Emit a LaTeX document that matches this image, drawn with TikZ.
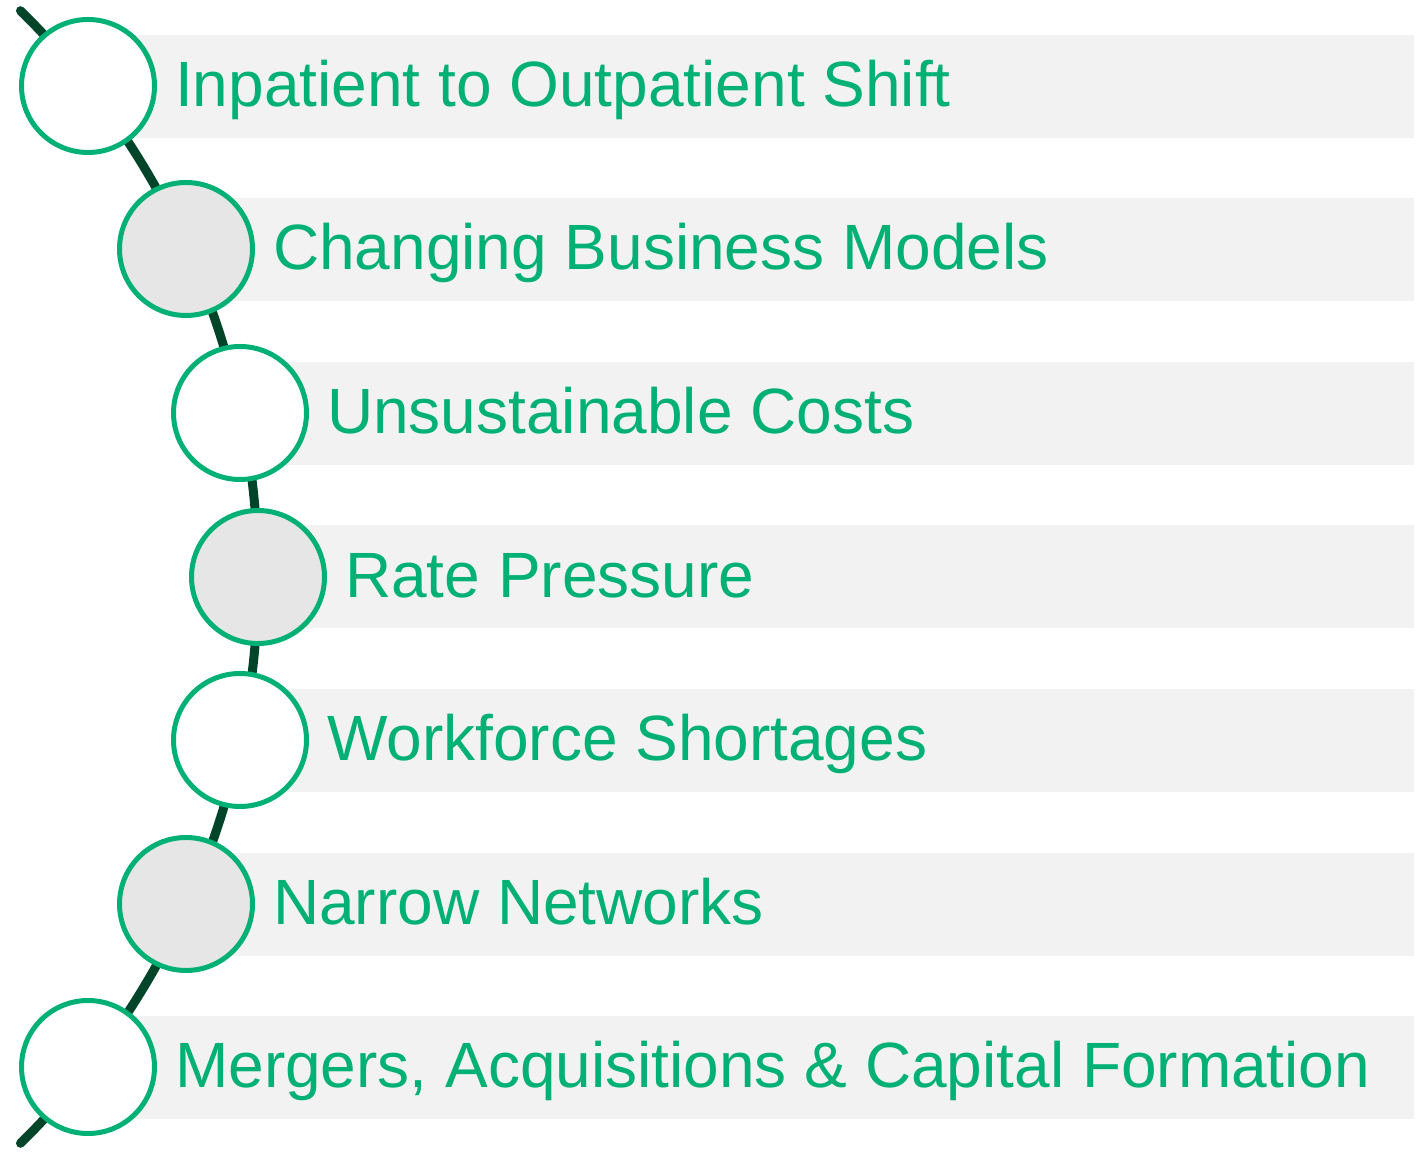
\documentclass[tikz,border=0pt]{standalone}
\usepackage{fontspec}
\setmainfont{Liberation Sans}
\usetikzlibrary{positioning, calc}
\definecolor{gruen}{HTML}{00B074}
\definecolor{dunkel}{HTML}{00452A}
\definecolor{balken}{HTML}{F2F2F2}
\definecolor{kreisgrau}{HTML}{E6E6E6}
\tikzset{
  kreis/.style={circle, draw=gruen, line width=5pt, fill=white,
                minimum size=133pt, inner sep=0pt},
  kreisg/.style={kreis, fill=kreisgrau},
  etikett/.style={anchor=base west, text=gruen, font=\fontsize{64}{70}\selectfont,
                  inner sep=0pt}
}
\begin{document}
\begin{tikzpicture}[x=1pt, y=1pt]
      \useasboundingbox (0,0) rectangle (1419,1153);

      % Balken
      \fill[balken] (88,1015) rectangle (1414,1118);
      \fill[balken] (186,852) rectangle (1414,955);
      \fill[balken] (240,688) rectangle (1414,791);
      \fill[balken] (258,525) rectangle (1414,628);
      \fill[balken] (240,361) rectangle (1414,464);
      \fill[balken] (186,197) rectangle (1414,300);
      \fill[balken] (88,34) rectangle (1414,137);

      % Bogen
      \coordinate (bogenmitte) at (-536,576);
      \coordinate (bogenstart) at ($(bogenmitte)+(45.5:794)$);
      \draw[dunkel, line width=9pt, line cap=round]
        (bogenstart) arc (45.5:-45.5:794);

      % Kreise
      \node[kreis]  (k1) at (88,1067) {};
      \node[kreisg] (k2) at (186,904) {};
      \node[kreis]  (k3) at (240,740) {};
      \node[kreisg] (k4) at (258,576) {};
      \node[kreis]  (k5) at (240,413) {};
      \node[kreisg] (k6) at (186,249) {};
      \node[kreis]  (k7) at (88,86) {};

      % Texte
      \node[etikett] (t1) at ($(k1.east)+(18,-21)$) {Inpatient to Outpatient Shift};
      \node[etikett] (t2) at ($(k2.east)+(18,-21)$) {Changing Business Models};
      \node[etikett] (t3) at ($(k3.east)+(18,-21)$) {Unsustainable Costs};
      \node[etikett] (t4) at ($(k4.east)+(18,-21)$) {Rate Pressure};
      \node[etikett] (t5) at ($(k5.east)+(18,-21)$) {Workforce Shortages};
      \node[etikett] (t6) at ($(k6.east)+(18,-21)$) {Narrow Networks};
      \node[etikett] (t7) at ($(k7.east)+(18,-21)$) {Mergers, Acquisitions \& Capital Formation};
    \end{tikzpicture}
\end{document}
